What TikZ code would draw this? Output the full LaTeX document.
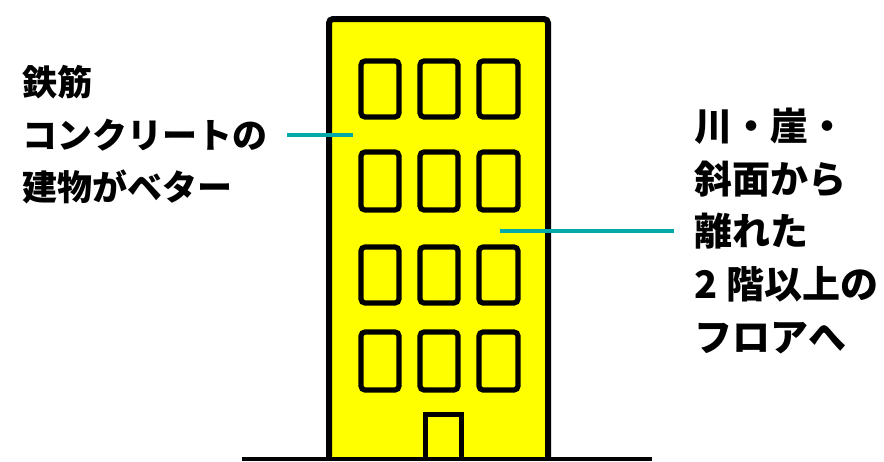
\documentclass[tikz,border=0pt]{standalone}
\usepackage{fontspec}
\usepackage{xcolor}
\usepackage{tikz}
\usetikzlibrary{positioning}
\newfontfamily\jpfont{Noto Sans CJK JP}
\definecolor{leadteal}{RGB}{0,168,168}
\definecolor{wallyellow}{RGB}{255,255,0}

\begin{document}
\begin{tikzpicture}[x=0.5pt, y=-0.5pt,
  wall/.style={draw, line width=3pt, fill=wallyellow, rounded corners=2pt},
  window/.style={draw, line width=2.6pt, rounded corners=2pt},
  leader/.style={draw=leadteal, line width=2pt},
  lbl/.style={font=\jpfont\bfseries, align=left, inner sep=0pt}]
\useasboundingbox (0,0) rectangle (884,461);
% building with its windows and door
\path[wall] (329,459) -- (329,19) -- (548,19) -- (548,459);
\foreach \top/\bot in {61/117, 152/210, 247/303, 332/390}
  \foreach \lft/\rgt in {361/399, 420/458, 479/518}
    \path[window] (\lft,\top) rectangle (\rgt,\bot);
\draw[line width=2.5pt] (425,459) -- (425,414) -- (461,414) -- (461,459);
\draw[line width=2pt] (242,459) -- (652,459);
% leader lines and labels
\coordinate (lend) at (287,135);
\coordinate (lpt) at (353,135);
\coordinate (rpt) at (500,231);
\coordinate (rend) at (674,231);
\node[lbl, font=\jpfont\bfseries\fontsize{17.5pt}{26.3pt}\selectfont, left=9.5pt of lend]
  (rebar) {鉄筋\\コンクリートの\\建物がベター};
\node[lbl, font=\jpfont\bfseries\fontsize{19pt}{26.4pt}\selectfont, right=10pt of rend]
  (upper) {川・崖・\\斜面から\\離れた\\2 階以上の\\フロアへ};
\draw[leader] (lend) -- (lpt);
\draw[leader] (rpt) -- (rend);
\end{tikzpicture}
\end{document}
